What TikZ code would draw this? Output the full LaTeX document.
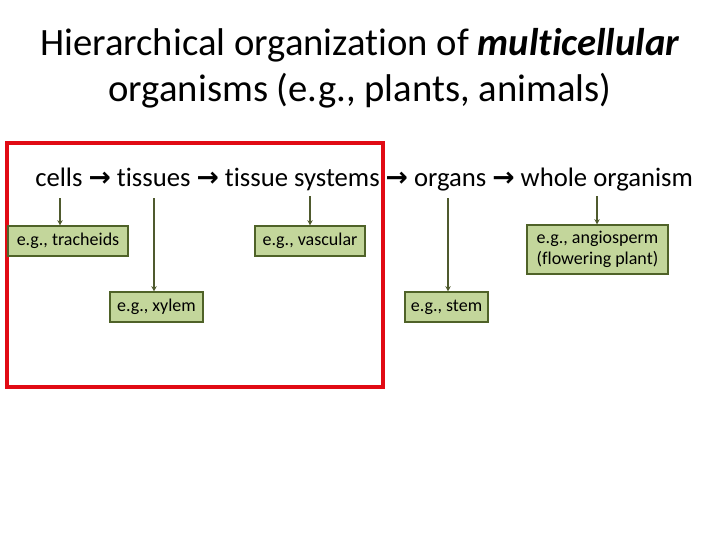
\documentclass[tikz,border=0pt]{standalone}
\usepackage{fontspec}
\setmainfont[RawFeature=-liga]{Carlito}
\newfontfamily\arr{DejaVu Sans}
\usetikzlibrary{arrows.meta}
\definecolor{boxfill}{HTML}{C3D69B}
\definecolor{boxline}{HTML}{4F6228}
\definecolor{arrcol}{HTML}{4F5A2E}
\newcommand{\ra}{{\arr\bfseries →}}
\tikzset{
 ex/.style={draw=boxline,fill=boxfill,line width=0.8pt,font=\fontsize{13.5}{16}\selectfont,inner sep=0pt,align=center},
 dn/.style={draw=arrcol,line width=1.2pt,-{Stealth[length=4pt,width=4pt]}}
}
\begin{document}
\begin{tikzpicture}[x=0.75pt,y=-0.75pt]
\useasboundingbox (0,0) rectangle (720,540);
\node (t1) at (360,45) {\fontsize{29}{34}\selectfont Hierarchical organization of \textbf{\textit{multicellular}}};
\node (t2) at (360,91) {\fontsize{29}{34}\selectfont organisms (e.g., plants, animals)};
\node[draw={rgb,255:red,225;green,10;blue,20},line width=3pt,minimum width=376*0.75pt,minimum height=244*0.75pt,inner sep=0pt] (frame) at (195,265) {};
\node[anchor=west,inner sep=0pt] (flow) at (35,180) {\fontsize{20}{24}\selectfont cells \ra{} tissues \ra{} tissue systems \ra{} organs \ra{} whole organism};
\node[ex,minimum width=120*0.75pt,minimum height=30*0.75pt] (b1) at (68,241) {e.g., tracheids};
\node[ex,minimum width=93*0.75pt,minimum height=30*0.75pt] (b2) at (156.5,307) {e.g., xylem};
\node[ex,minimum width=110*0.75pt,minimum height=30*0.75pt] (b3) at (310,241) {e.g., vascular};
\node[ex,minimum width=83*0.75pt,minimum height=30*0.75pt] (b4) at (446.5,307) {e.g., stem};
\node[ex,minimum width=141*0.75pt,minimum height=49*0.75pt] (b5) at (597.5,249.5) {e.g., angiosperm\\(flowering plant)};
\coordinate (s1) at (60,198);
\coordinate (s2) at (154,198);
\coordinate (s3) at (310,196);
\coordinate (s4) at (448,198);
\coordinate (s5) at (597,196);
\draw[dn] (s1) -- (s1 |- b1.north);
\draw[dn] (s2) -- (s2 |- b2.north);
\draw[dn] (s3) -- (s3 |- b3.north);
\draw[dn] (s4) -- (s4 |- b4.north);
\draw[dn] (s5) -- (s5 |- b5.north);
\end{tikzpicture}
\end{document}
